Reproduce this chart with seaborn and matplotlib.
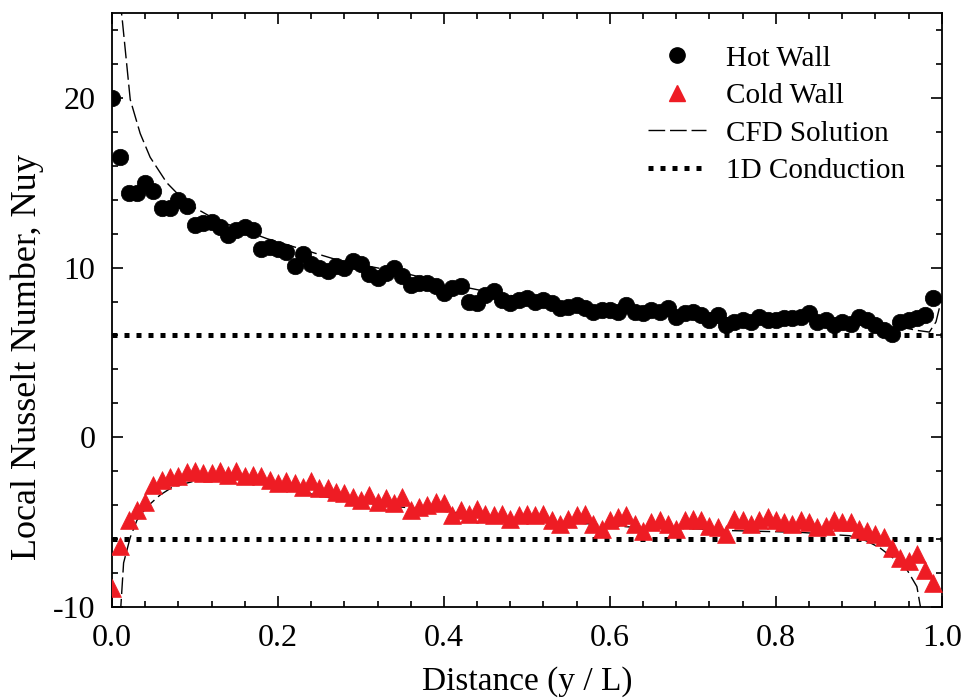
import numpy as np
import pandas as pd
import matplotlib
matplotlib.use("Agg")
import matplotlib.pyplot as plt
from matplotlib.ticker import MultipleLocator, FormatStrFormatter
from matplotlib.lines import Line2D
import seaborn as sns

# Dati
distanza = [round(i * 0.01, 2) for i in range(100)]

nu_caldo = [20.0, 16.5, 14.4, 14.4, 15.0, 14.5, 13.5, 13.5, 14.0, 13.6,
            12.5, 12.6, 12.7, 12.4, 11.9, 12.2, 12.4, 12.2, 11.1, 11.2,
            11.1, 10.9, 10.1, 10.8, 10.2, 10.0, 9.8, 10.1, 10.0, 10.4,
            10.2, 9.6, 9.4, 9.7, 10.0, 9.5, 9.0, 9.1, 9.1, 8.9,
            8.5, 8.8, 8.9, 8.0, 7.9, 8.4, 8.6, 8.1, 7.9, 8.1,
            8.2, 8.0, 8.1, 7.9, 7.6, 7.7, 7.8, 7.6, 7.4, 7.5,
            7.5, 7.4, 7.8, 7.4, 7.3, 7.5, 7.4, 7.6, 7.1, 7.3,
            7.4, 7.2, 6.9, 7.2, 6.6, 6.8, 6.9, 6.8, 7.1, 6.9,
            6.9, 7.0, 7.0, 7.1, 7.3, 6.8, 6.9, 6.6, 6.8, 6.7,
            7.1, 6.9, 6.6, 6.3, 6.1, 6.8, 6.9, 7.0, 7.2, 8.2]

nu_freddo = [-8.9, -6.4, -4.9, -4.3, -3.8, -2.8, -2.5, -2.35, -2.3, -2.05,
             -2.0, -2.1, -2.1, -2.0, -2.2, -2.0, -2.3, -2.2, -2.3, -2.5,
             -2.7, -2.6, -2.7, -2.9, -2.6, -3.0, -3.0, -3.2, -3.3, -3.5,
             -3.7, -3.4, -3.8, -3.6, -3.9, -3.5, -4.3, -4.1, -4.0, -3.8,
             -3.9, -4.6, -4.3, -4.5, -4.2, -4.5, -4.6, -4.5, -4.8, -4.6,
             -4.5, -4.6, -4.5, -4.9, -5.1, -4.8, -4.6, -4.5, -5.1, -5.4,
             -4.9, -4.7, -4.6, -5.1, -5.5, -5.0, -4.9, -5.1, -5.4, -4.9,
             -4.8, -4.9, -5.2, -5.3, -5.7, -4.8, -4.9, -5.1, -4.9, -4.7,
             -4.9, -5.0, -5.1, -4.9, -5.0, -5.3, -5.2, -4.9, -5.0, -5.0,
             -5.4, -5.5, -5.7, -5.9, -6.5, -7.1, -7.3, -6.9, -7.8, -8.6]

# Soluzione CFD (parete calda)
cfd_caldo_x = [0.006, 0.012, 0.022, 0.034, 0.046, 0.066, 0.09, 0.126, 0.187,
               0.275, 0.35, 0.40, 0.45, 0.50, 0.55, 0.60, 0.65, 0.70, 0.75,
               0.80, 0.85, 0.90, 0.95, 0.97, 0.985, 0.993, 0.997]
cfd_caldo_y = [27.0, 24.8, 19.9, 17.9, 16.5, 15.0, 13.8, 12.8, 11.7,
               10.4, 9.7, 9.1, 8.6, 8.2, 7.9, 7.6, 7.4, 7.2, 7.0,
               6.9, 6.8, 6.7, 6.5, 6.3, 6.2, 6.8, 7.6]

# Soluzione CFD (parete fredda)
cfd_freddo_x = [0.010, 0.014, 0.022, 0.030, 0.042, 0.058, 0.074, 0.106, 0.146,
                0.187, 0.226, 0.266, 0.327, 0.387, 0.467, 0.548, 0.628, 0.708,
                0.748, 0.829, 0.889, 0.909, 0.925, 0.941, 0.958, 0.970, 0.975]
cfd_freddo_y = [-10.5, -7.4, -5.9, -4.9, -4.1, -3.4, -2.9, -2.5, -2.5,
                -2.8, -3.2, -3.6, -4.0, -4.3, -4.7, -5.0, -5.3, -5.4,
                -5.5, -5.6, -5.8, -6.1, -6.5, -7.1, -7.8, -8.8, -10.2]

# Conduzione 1D
cond_x = [0.0, 1.0]
cond_caldo = [6.0, 6.0]
cond_freddo = [-6.0, -6.0]

df_caldo = pd.DataFrame({"x": distanza, "nu": nu_caldo})
df_freddo = pd.DataFrame({"x": distanza, "nu": nu_freddo})

rosso = "#ee1c24"
tratteggio = [12, 3.5]
puntini = [1, 1.4]

sns.set_theme(style="ticks")
plt.rcParams['font.family'] = ['Liberation Serif', 'DejaVu Serif']
plt.rcParams['axes.unicode_minus'] = False
plt.rcParams['text.color'] = 'black'
plt.rcParams['axes.labelcolor'] = 'black'
plt.rcParams['xtick.color'] = 'black'
plt.rcParams['ytick.color'] = 'black'

fig = plt.figure(figsize=(9.62, 6.99), dpi=100)
ax = fig.add_axes([0.1164, 0.1316, 0.8626, 0.8498])

sns.lineplot(x=cfd_caldo_x, y=cfd_caldo_y, ax=ax, color="black", lw=1.0,
             sort=False, estimator=None)
ax.lines[-1].set_dashes(tratteggio)
sns.lineplot(x=cfd_freddo_x, y=cfd_freddo_y, ax=ax, color="black", lw=1.0,
             sort=False, estimator=None)
ax.lines[-1].set_dashes(tratteggio)
sns.lineplot(x=cond_x, y=cond_caldo, ax=ax, color="black", lw=3.6,
             estimator=None)
ax.lines[-1].set_dashes(puntini)
sns.lineplot(x=cond_x, y=cond_freddo, ax=ax, color="black", lw=3.6,
             estimator=None)
ax.lines[-1].set_dashes(puntini)

sns.scatterplot(data=df_caldo, x="x", y="nu", ax=ax, marker="o", s=140,
                color="black", edgecolor="black", linewidth=0.5, zorder=3)
sns.scatterplot(data=df_freddo, x="x", y="nu", ax=ax, marker="^", s=165,
                color=rosso, edgecolor=rosso, linewidth=0.5, zorder=3)

ax.set_xlim(0, 1.0)
ax.set_ylim(-10, 25)
ax.xaxis.set_major_locator(MultipleLocator(0.2))
ax.xaxis.set_minor_locator(MultipleLocator(0.04))
ax.yaxis.set_major_locator(MultipleLocator(10))
ax.yaxis.set_minor_locator(MultipleLocator(2))
ax.xaxis.set_major_formatter(FormatStrFormatter("%.1f"))
ax.tick_params(which="both", direction="in", top=True, right=True,
               labelsize=23, color="black", width=1.2)
ax.tick_params(which="major", length=8, pad=12)
ax.tick_params(which="minor", length=4)
for s in ax.spines.values():
    s.set_linewidth(1.3)
    s.set_color("black")

ax.set_xlabel("Distance (y / L)", fontsize=24, labelpad=10)
ax.set_ylabel("Local Nusselt Number, Nuy", fontsize=26)
ax.yaxis.set_label_coords(-0.082, 0.42)

# Legenda
maniglie = [
    Line2D([], [], marker="o", color="black", ls="none", markersize=11),
    Line2D([], [], marker="^", color=rosso, ls="none", markersize=11),
    Line2D([], [], color="black", lw=1.0, dashes=tratteggio),
    Line2D([], [], color="black", lw=3.6, dashes=puntini),
]
ax.legend(maniglie, ["Hot Wall", "Cold Wall", "CFD Solution", "1D Conduction"],
          loc="upper right", bbox_to_anchor=(0.988, 0.99), frameon=False,
          fontsize=21, handlelength=2.0, handletextpad=0.7, labelspacing=0.38)

fig.savefig("out.png", dpi=100)
